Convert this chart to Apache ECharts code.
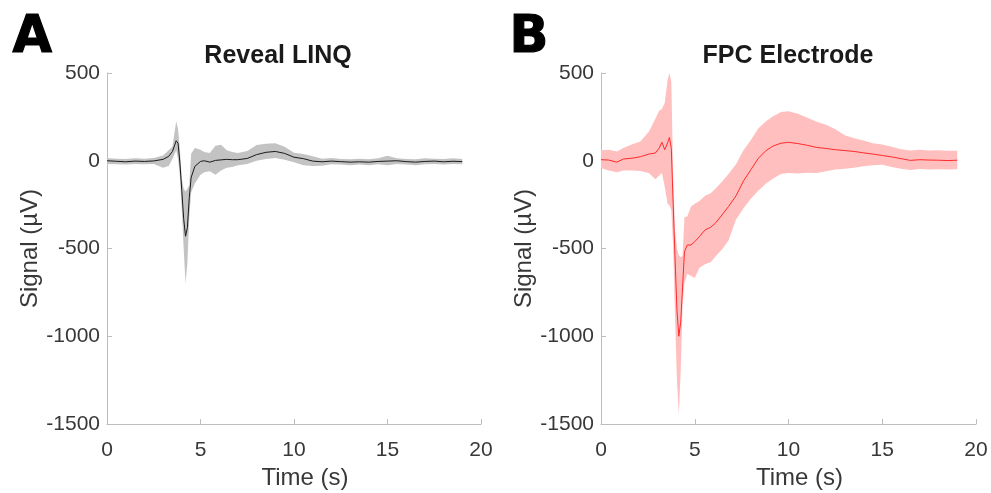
<!DOCTYPE html>
<html>
<head>
<meta charset="utf-8">
<script src="https://cdn.jsdelivr.net/npm/echarts@6/dist/echarts.min.js"></script>
<style>
html,body{margin:0;padding:0;background:#fff;}
#chart{width:991px;height:493px;}
</style>
</head>
<body>
<div id="chart"></div>
<script>
// ---- Panel A: Reveal LINQ ----
const timeA  = [0, 0.5, 1.0, 1.5, 2.0, 2.5, 3.0, 3.3, 3.5, 3.7, 3.8, 3.9, 4.0, 4.1, 4.2, 4.3, 4.4, 4.5, 4.7, 5.0, 5.2, 5.5, 5.8, 6.1, 6.4, 6.7, 7.0, 7.5, 8.0, 8.5, 9.0, 9.5, 10.0, 10.5, 11.0, 11.5, 12.0, 12.5, 13.0, 13.5, 14.0, 14.5, 15.0, 15.5, 16.0, 16.5, 17.0, 17.5, 18.0, 18.5, 19.0];
const meanA  = [0, -3, -6, -2, -4, -1, 8, 25, 53, 114, 100, -13, -170, -330, -430, -380, -210, -95, -32, -4, 0, -8, 2, 5, 8, 6, 6, 13, 35, 48, 53, 42, 20, 12, -2, -6, -2, -5, -8, -6, -8, -4, -2, 0, -5, -8, -4, -2, -6, -3, -5];
const upperA = [15, 12, 10, 14, 12, 15, 30, 60, 80, 225, 180, 60, -100, -160, -175, -160, -140, 40, 72, 63, 50, 44, 85, 91, 60, 50, 44, 55, 90, 97, 100, 80, 45, 38, 25, 12, 15, 10, 8, 12, 8, 14, 28, 14, 10, 8, 14, 12, 10, 14, 10];
const lowerA = [-18, -20, -22, -18, -20, -18, -40, -30, 10, 60, 10, -90, -280, -500, -700, -580, -320, -180, -130, -80, -65, -60, -80, -55, -40, -35, -25, -18, 0, 10, 15, 5, -8, -25, -30, -28, -20, -22, -25, -22, -25, -20, -25, -18, -22, -25, -20, -18, -22, -18, -20];

// ---- Panel B: FPC Electrode ----
const timeB  = [0, 0.4, 0.85, 1.2, 1.7, 2.1, 2.55, 2.9, 3.1, 3.25, 3.4, 3.55, 3.65, 3.75, 3.85, 3.95, 4.05, 4.15, 4.25, 4.35, 4.45, 4.6, 4.8, 5.0, 5.25, 5.55, 5.85, 6.1, 6.45, 6.8, 7.2, 7.6, 8.0, 8.4, 8.8, 9.2, 9.6, 10.0, 10.5, 11.0, 11.5, 12.0, 12.5, 13.0, 13.5, 14.0, 14.5, 15.0, 15.5, 16.0, 16.5, 17.0, 17.5, 18.0, 18.5, 19.0];
const meanB  = [6, 4, -8, 10, 15, 23, 38, 44, 72, 105, 63, 101, 133, 70, -250, -560, -850, -1000, -920, -720, -520, -480, -480, -461, -432, -394, -379, -356, -309, -261, -200, -115, -50, 15, 58, 85, 100, 105, 98, 88, 76, 70, 63, 58, 53, 45, 38, 30, 22, 12, 2, 6, 4, 3, 1, 3];
const upperB = [60, 62, 52, 72, 95, 110, 165, 240, 285, 295, 330, 460, 500, 450, -100, -400, -500, -540, -550, -540, -320, -318, -260, -245, -230, -200, -185, -160, -120, -75, -20, 60, 120, 185, 225, 255, 278, 282, 268, 245, 222, 205, 180, 145, 128, 116, 100, 92, 80, 66, 58, 62, 58, 60, 57, 57];
const lowerB = [-42, -55, -65, -55, -55, -58, -70, -105, -85, -70, -150, -245, -255, -280, -500, -900, -1250, -1450, -1200, -820, -700, -645, -655, -668, -610, -590, -578, -545, -505, -455, -335, -270, -215, -170, -130, -100, -75, -70, -72, -68, -70, -60, -50, -45, -40, -32, -25, -23, -35, -45, -52, -47, -50, -48, -50, -48];

const xTicks = [0, 5, 10, 15, 20];
const yTicks = [-1500, -1000, -500, 0, 500];

const FONT = 'Liberation Sans, Arial, Helvetica, sans-serif';
const AXIS_GRAY = '#bdbdbd';
const LABEL_COL = '#383838';

function pairs(t, v) { return t.map((x, i) => [x, v[i]]); }

function xAxisFor(idx) {
  return {
    type: 'value', gridIndex: idx, min: xTicks[0], max: xTicks[xTicks.length - 1],
    interval: xTicks[1] - xTicks[0],
    axisLine: { show: true, onZero: false, lineStyle: { color: AXIS_GRAY, width: 1 } },
    axisTick: { show: true, inside: true, length: 5, lineStyle: { color: AXIS_GRAY } },
    axisLabel: { color: LABEL_COL, fontSize: 21, fontFamily: FONT, margin: 16, formatter: v => String(v) },
    splitLine: { show: false },
    name: 'Time (s)', nameLocation: 'middle', nameGap: 42,
    nameTextStyle: { color: LABEL_COL, fontSize: 24, fontFamily: FONT, padding: [0, 0, 0, 22] }
  };
}
function yAxisFor(idx) {
  return {
    type: 'value', gridIndex: idx, min: yTicks[0], max: yTicks[yTicks.length - 1],
    interval: yTicks[1] - yTicks[0],
    axisLine: { show: true, onZero: false, lineStyle: { color: AXIS_GRAY, width: 1 } },
    axisTick: { show: true, inside: true, length: 5, lineStyle: { color: AXIS_GRAY } },
    axisLabel: { color: LABEL_COL, fontSize: 21, fontFamily: FONT, margin: 7, formatter: v => String(v) },
    splitLine: { show: false },
    name: 'Signal (µV)', nameLocation: 'middle', nameGap: 62,
    nameTextStyle: { color: LABEL_COL, fontSize: 24, fontFamily: FONT }
  };
}

// Shaded band (lower..upper) drawn as one polygon through the axis scales
function bandSeries(idx, t, lo, hi, fill) {
  const data = t.map((x, i) => [x, lo[i], hi[i]]);
  return {
    type: 'custom', xAxisIndex: idx, yAxisIndex: idx, silent: true, z: 1,
    data: data,
    encode: { x: 0, y: [1, 2] },
    renderItem: function (params, api) {
      if (params.dataIndex !== 0) return null;
      const pts = [];
      for (let i = 0; i < data.length; i++) pts.push(api.coord([data[i][0], data[i][2]]));
      for (let i = data.length - 1; i >= 0; i--) pts.push(api.coord([data[i][0], data[i][1]]));
      return { type: 'polygon', shape: { points: pts }, style: { fill: fill, stroke: null } };
    }
  };
}

const chart = echarts.init(document.getElementById('chart'), null, { renderer: 'canvas' });
chart.setOption({
  animation: false,
  backgroundColor: '#ffffff',
  title: [
    { text: 'Reveal LINQ', left: 278, top: 44, textAlign: 'center', padding: 0,
      textStyle: { fontSize: 25, fontWeight: 'bold', color: '#1a1a1a', fontFamily: FONT } },
    { text: 'FPC Electrode', left: 788, top: 44, textAlign: 'center', padding: 0,
      textStyle: { fontSize: 25, fontWeight: 'bold', color: '#1a1a1a', fontFamily: FONT } }
  ],
  graphic: [
    { type: 'text', left: 12, top: 13, style: { text: 'A', fontSize: 51, fontWeight: 900, fontFamily: 'DejaVu Sans', fill: '#000', stroke: '#000', lineWidth: 1.2 } },
    { type: 'text', left: 509, top: 13, style: { text: 'B', fontSize: 51, fontWeight: 900, fontFamily: 'DejaVu Sans', fill: '#000', stroke: '#000', lineWidth: 1.2 } }
  ],
  grid: [
    { left: 107, top: 73, width: 374, height: 351, outerBoundsMode: 'none', containLabel: false },
    { left: 601, top: 73, width: 375, height: 351, outerBoundsMode: 'none', containLabel: false }
  ],
  xAxis: [xAxisFor(0), xAxisFor(1)],
  yAxis: [yAxisFor(0), yAxisFor(1)],
  series: [
    bandSeries(0, timeA, lowerA, upperA, '#c3c3c3'),
    { type: 'line', xAxisIndex: 0, yAxisIndex: 0, data: pairs(timeA, meanA), symbol: 'none',
      lineStyle: { color: '#1a1a1a', width: 1 }, z: 3 },
    bandSeries(1, timeB, lowerB, upperB, '#ffbfbf'),
    { type: 'line', xAxisIndex: 1, yAxisIndex: 1, data: pairs(timeB, meanB), symbol: 'none',
      lineStyle: { color: '#ff2a2a', width: 1 }, z: 3 }
  ]
});
</script>
</body>
</html>
